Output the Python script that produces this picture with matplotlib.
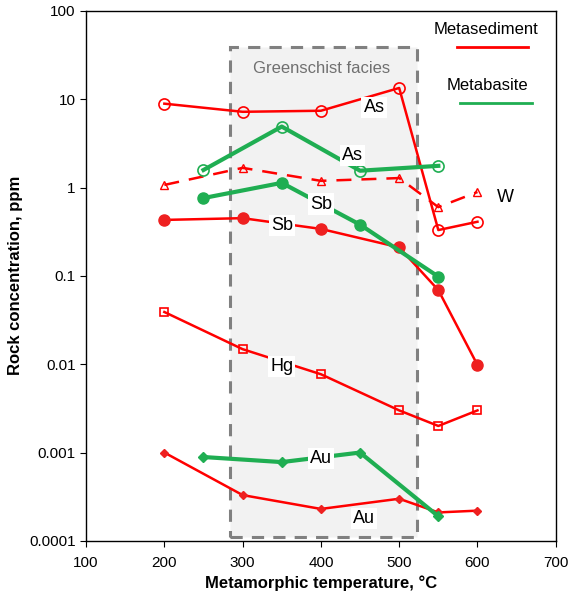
import matplotlib
matplotlib.use("Agg")
import matplotlib.pyplot as plt
from matplotlib.patches import Rectangle

plt.rcParams['font.family'] = ['Liberation Sans', 'DejaVu Sans']

RED = '#ff0000'
RED_FILL = '#ee2020'
GREEN = '#1fae52'

# metasediment series
sed_t = [200, 300, 400, 500, 550, 600]
sed_as = [8.9, 7.2, 7.4, 13.4, 0.33, 0.41]
sed_w = [1.07, 1.67, 1.19, 1.28, 0.6, 0.89]
sed_sb = [0.43, 0.45, 0.34, 0.21, 0.069, 0.0098]
sed_hg = [0.039, 0.0148, 0.0077, 0.003, 0.002, 0.003]
sed_au = [0.001, 0.00033, 0.00023, 0.0003, 0.00021, 0.00022]

# metabasite series
bas_t = [250, 350, 450, 550]
bas_as = [1.58, 4.9, 1.55, 1.76]
bas_sb = [0.76, 1.13, 0.38, 0.098]
bas_au = [0.00089, 0.00078, 0.001, 0.00019]

# greenschist facies window
gs_x = (284, 523)
gs_y = (0.000111, 39)

fig = plt.figure(figsize=(5.7, 6.03), dpi=100)
ax = fig.add_axes([0.151, 0.103, 0.824, 0.879])

ax.add_patch(Rectangle((gs_x[0], gs_y[0]), gs_x[1] - gs_x[0], gs_y[1] - gs_y[0],
                       facecolor='#f2f2f2', edgecolor='#808080', lw=2.2,
                       ls=(0, (4, 3)), zorder=1))
ax.text(0.5 * (gs_x[0] + gs_x[1]) - 3, 22, 'Greenschist facies', color='#707070',
        fontsize=12, ha='center', va='center', zorder=2)

sed_kw = dict(color=RED, lw=1.8, zorder=3)
ax.plot(sed_t, sed_as, marker='o', ms=8, mfc='none', mec=RED, mew=1.2, **sed_kw)
ax.plot(sed_t, sed_w, marker='^', ms=6, mfc='none', mec=RED, mew=1.0,
        ls=(0, (6, 4)), **sed_kw)
ax.plot(sed_t, sed_sb, marker='o', ms=8, mfc=RED_FILL, mec=RED_FILL, **sed_kw)
ax.plot(sed_t, sed_hg, marker='s', ms=6, mfc='none', mec=RED, mew=1.2, **sed_kw)
ax.plot(sed_t, sed_au, marker='D', ms=4, mfc=RED_FILL, mec=RED_FILL, **sed_kw)

bas_kw = dict(color=GREEN, lw=3, zorder=4)
ax.plot(bas_t, bas_as, marker='o', ms=8, mfc='none', mec=GREEN, mew=1.2, **bas_kw)
ax.plot(bas_t, bas_sb, marker='o', ms=8, mfc=GREEN, mec=GREEN, **bas_kw)
ax.plot(bas_t, bas_au, marker='D', ms=5, mfc=GREEN, mec=GREEN, **bas_kw)

box = dict(facecolor='white', edgecolor='none', pad=1.5)
labels = [
    (468, 8.0, 'As'), (440, 2.3, 'As'), (625, 0.78, 'W'),
    (400, 0.65, 'Sb'), (350, 0.37, 'Sb'), (350, 0.0094, 'Hg'),
    (400, 0.00086, 'Au'), (455, 0.00018, 'Au'),
]
for x, y, s in labels:
    ax.text(x, y, s, fontsize=13, ha='left' if s == 'W' else 'center',
            va='center', bbox=box, zorder=5)

# legend drawn as text + line in axes coords
ax.text(0.851, 0.964, 'Metasediment', transform=ax.transAxes, fontsize=12,
        ha='center', va='center')
ax.plot([0.789, 0.94], [0.932, 0.932], transform=ax.transAxes, color=RED, lw=2)
ax.text(0.855, 0.86, 'Metabasite', transform=ax.transAxes, fontsize=12,
        ha='center', va='center')
ax.plot([0.796, 0.949], [0.826, 0.826], transform=ax.transAxes, color=GREEN, lw=2)

ax.set_yscale('log')
ax.set_ylim(0.0001, 100)
ax.set_xlim(100, 700)
ax.set_yticks([0.0001, 0.001, 0.01, 0.1, 1, 10, 100])
ax.set_yticklabels(['0.0001', '0.001', '0.01', '0.1', '1', '10', '100'])
ax.minorticks_off()
ax.set_xticks(range(100, 701, 100))
ax.tick_params(labelsize=11, length=4, direction='out')
ax.tick_params(axis='x', pad=7)
ax.set_xlabel('Metamorphic temperature, °C', fontsize=12, fontweight='bold')
ax.set_ylabel('Rock concentration, ppm', fontsize=12, fontweight='bold')
for sp in ax.spines.values():
    sp.set_linewidth(1.0)

fig.savefig('out.png', dpi=100)
